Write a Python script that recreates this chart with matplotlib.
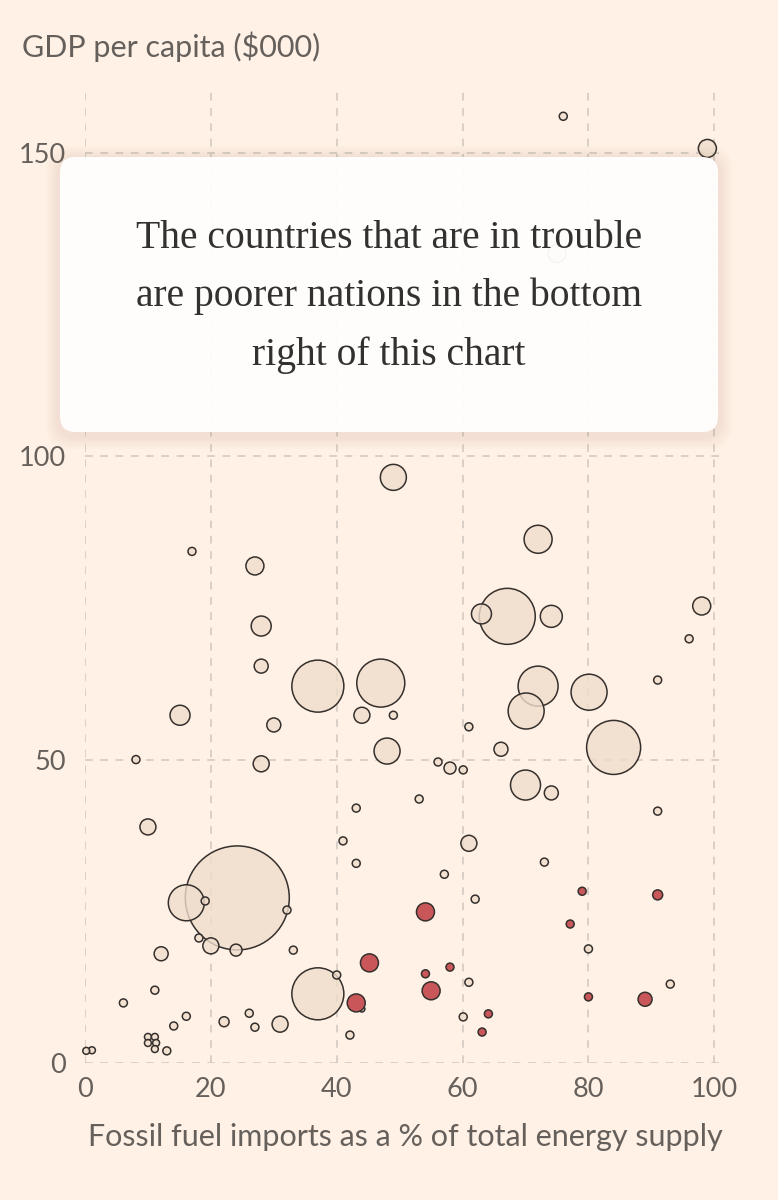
import numpy as np
import matplotlib.pyplot as plt
from matplotlib.patches import FancyBboxPatch

# fossil fuel imports (% of total energy supply), GDP per capita ($000), bubble size (relative)
imports = [76, 98.9, 75, 49, 17, 27, 28, 28, 37, 47, 44, 49, 15.1, 30, 48, 8.1, 28,
           72, 67.1, 63, 74.1, 98, 96, 91, 72, 70.1, 80.1, 84, 61, 66.1, 56.1, 58, 60.1, 70,
           74.1, 53.1, 91, 61, 73, 57.1, 62, 80, 61, 93, 60.1,
           43.1, 41, 43.1, 10, 24.2, 16.1, 19.1, 32.1, 18.1, 20, 24, 33.1, 12.1, 37, 40, 44,
           11.1, 6.1, 31, 26.1, 27, 22.1, 16.1, 14.1, 42.1, 10, 11.1, 10, 11.3, 11.1, 13, 0.2, 1.1]
gdp = [156, 150.7, 133.4, 96.5, 84.3, 81.9, 72, 65.4, 62.1, 62.6, 57.3, 57.3, 57.3, 55.7, 51.4, 50, 49.3,
       86.3, 73.6, 74, 73.6, 75.3, 69.9, 63.1, 62.1, 58, 61.1, 52, 55.4, 51.7, 49.6, 48.6, 48.3, 45.8,
       44.5, 43.5, 41.5, 36.2, 33.1, 31.1, 27, 18.8, 13.3, 13, 7.6,
       42, 36.6, 32.9, 38.9, 27.2, 26.4, 26.7, 25.2, 20.6, 19.3, 18.6, 18.6, 18, 11.4, 14.5, 8.9,
       12, 9.9, 6.4, 8.2, 5.9, 6.8, 7.7, 6.1, 4.6, 4.3, 4.3, 3.3, 3.3, 2.3, 2, 2, 2.1]
size = [16, 81, 81, 169, 16, 81, 100, 49, 676, 576, 64, 16, 100, 49, 169, 16, 64,
        196, 784, 100, 121, 81, 16, 16, 400, 324, 324, 729, 16, 49, 16, 36, 16, 225,
        49, 16, 16, 64, 16, 16, 16, 16, 16, 16, 16,
        16, 16, 16, 64, 2704, 324, 16, 16, 16, 64, 36, 16, 49, 676, 16, 9,
        16, 16, 64, 16, 16, 25, 16, 16, 16, 12, 12, 12, 12, 12, 16, 12, 12]

# countries in trouble (highlighted in red)
trouble_imports = [45.2, 43.1, 79, 91, 54.1, 77.1, 54.1, 58, 55, 80, 89, 64.1, 63.1]
trouble_gdp = [16.5, 9.9, 28.3, 27.7, 24.9, 22.9, 14.7, 15.8, 11.9, 10.9, 10.5, 8.1, 5.1]
trouble_size = [81, 81, 16, 25, 81, 16, 16, 16, 81, 16, 49, 16, 16]

x_ticks = [0, 20, 40, 60, 80, 100]
y_ticks = [0, 50, 100, 150]

title = "GDP per capita ($000)"
x_label = "Fossil fuel imports as a % of total energy supply"
callout = "The countries that are in trouble\nare poorer nations in the bottom\nright of this chart"

BG = "#FFF1E5"
GREY = "#66605C"
EDGE = "#35302D"

plt.rcParams['font.family'] = ['Lato', 'DejaVu Sans']

fig = plt.figure(figsize=(7.78, 12), dpi=100, facecolor=BG)
ax = fig.add_axes([85/778, 137/1200, 640/778, 971/1200], facecolor=BG)

px = 0.72  # points per pixel at 100 dpi
order = np.argsort(size)[::-1]
xs = np.array(imports)[order]
ys = np.array(gdp)[order]
ss = (2 * np.sqrt(np.array(size)[order]) * px) ** 2
ax.scatter(xs, ys, s=ss, facecolor=(0.937, 0.867, 0.80, 0.8), edgecolor=EDGE,
           linewidth=1.1, zorder=3, clip_on=False)

ts = (2 * np.sqrt(np.array(trouble_size)) * px) ** 2
ax.scatter(trouble_imports, trouble_gdp, s=ts, facecolor="#C9575A", edgecolor=EDGE,
           linewidth=1.1, zorder=4, clip_on=False)

ax.set_xlim(0, 101.7)
ax.set_ylim(0, 160)
ax.set_xticks(x_ticks)
ax.set_yticks(y_ticks)
ax.grid(True, color="#CFC6BE", linestyle=(0, (5, 5)), linewidth=1.1, zorder=0)
for sp in ax.spines.values():
    sp.set_visible(False)
ax.tick_params(length=0, labelsize=19.5, labelcolor=GREY)
ax.tick_params(axis='x', pad=10)
ax.tick_params(axis='y', pad=14)

fig.text(22/778, 1 - 47/1200, title, fontsize=22, color=GREY, va='center', ha='left')
fig.text(405/778, 1 - 1137/1200, x_label, fontsize=22, color=GREY, va='center', ha='center')

# callout box with soft shadow
bx0, by0, bx1, by1 = 60, 157, 718, 432
for i in range(6):
    g = 14 - 2 * i
    sh = FancyBboxPatch(((bx0 - g) / 778, 1 - (by1 + g + 3) / 1200), (bx1 - bx0 + 2 * g) / 778,
                        (by1 - by0 + 2 * g) / 1200, boxstyle="round,pad=0,rounding_size=0.03",
                        transform=fig.transFigure, facecolor="#A0785A", alpha=0.02,
                        edgecolor='none', zorder=5, mutation_aspect=778/1200)
    fig.patches.append(sh)
box = FancyBboxPatch((bx0 / 778, 1 - by1 / 1200), (bx1 - bx0) / 778, (by1 - by0) / 1200,
                     boxstyle="round,pad=0,rounding_size=0.02", transform=fig.transFigure,
                     facecolor="white", alpha=0.95, edgecolor='none', zorder=6,
                     mutation_aspect=778/1200)
fig.patches.append(box)
fig.text(389/778, 1 - 297/1200, callout, fontsize=28.5, color="#33302E", ha='center', va='center',
         family=['Liberation Serif', 'DejaVu Serif'], linespacing=1.72, zorder=7)

fig.savefig("out.png", dpi=100, facecolor=BG)
